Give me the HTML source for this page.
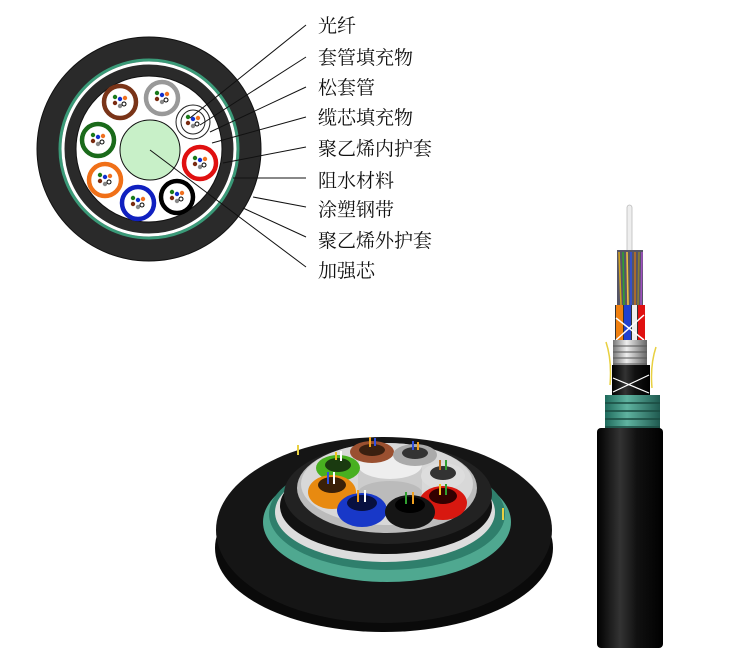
<!DOCTYPE html>
<html><head><meta charset="utf-8"><style>
html,body{margin:0;padding:0;background:#fff;}
svg{display:block;}
text{font-family:"Liberation Serif","Noto Serif CJK SC","Noto Sans CJK SC",serif;font-size:19px;fill:#111;}
</style></head><body>
<svg width="750" height="648" viewBox="0 0 750 648" xmlns="http://www.w3.org/2000/svg">
<defs>
<g id="dots">
<circle cx="-5" cy="-5" r="2.2" fill="#1a7a1a"/><circle cx="0" cy="-3" r="2.2" fill="#1030d0"/><circle cx="5" cy="-4" r="2.2" fill="#f07020"/>
<circle cx="-5" cy="1" r="2.2" fill="#7a2a10"/><circle cx="0" cy="4" r="2.2" fill="#888"/><circle cx="4" cy="2" r="2" fill="#fff" stroke="#000" stroke-width="1"/>
</g>
<linearGradient id="jk" x1="0" x2="1"><stop offset="0" stop-color="#000"/><stop offset="0.35" stop-color="#333"/><stop offset="0.6" stop-color="#111"/><stop offset="1" stop-color="#000"/></linearGradient>
<linearGradient id="sl" x1="0" x2="1"><stop offset="0" stop-color="#777"/><stop offset="0.4" stop-color="#eee"/><stop offset="1" stop-color="#666"/></linearGradient>
<linearGradient id="gr" x1="0" x2="1"><stop offset="0" stop-color="#1f6a5c"/><stop offset="0.4" stop-color="#5fb3a0"/><stop offset="1" stop-color="#1f5a50"/></linearGradient>
</defs>

<!-- cross section -->
<circle cx="149" cy="149" r="112" fill="#2a2a2a" stroke="#111" stroke-width="1"/>
<circle cx="149" cy="149" r="89" fill="none" stroke="#3a9a78" stroke-width="3"/>
<circle cx="149" cy="149" r="86" fill="none" stroke="#fff" stroke-width="3"/>
<circle cx="149" cy="149" r="84" fill="#2a2a2a"/>
<circle cx="149" cy="149" r="73" fill="#fff" stroke="#111" stroke-width="1"/>
<circle cx="150" cy="150" r="30" fill="#c8f0c8" stroke="#111" stroke-width="1"/>
<g>
<circle cx="120" cy="102" r="16" fill="#fff" stroke="#7a3418" stroke-width="4.5"/><use href="#dots" x="120" y="102"/>
<circle cx="162" cy="98" r="16" fill="#fff" stroke="#999" stroke-width="4.5"/><use href="#dots" x="162" y="98"/>
<circle cx="193" cy="122" r="17" fill="#fff" stroke="#222" stroke-width="1"/><circle cx="193" cy="122" r="12" fill="#fff" stroke="#222" stroke-width="1"/><use href="#dots" x="193" y="122"/>
<circle cx="98" cy="140" r="16" fill="#fff" stroke="#1a6a1a" stroke-width="4.5"/><use href="#dots" x="98" y="140"/>
<circle cx="200" cy="163" r="16" fill="#fff" stroke="#e01010" stroke-width="4.5"/><use href="#dots" x="200" y="163"/>
<circle cx="105" cy="180" r="16" fill="#fff" stroke="#f07018" stroke-width="4.5"/><use href="#dots" x="105" y="180"/>
<circle cx="138" cy="203" r="16" fill="#fff" stroke="#1020c0" stroke-width="4.5"/><use href="#dots" x="138" y="203"/>
<circle cx="177" cy="197" r="16" fill="#fff" stroke="#000" stroke-width="4.5"/><use href="#dots" x="177" y="197"/>
</g>
<g stroke="#111" stroke-width="1" fill="none">
<line x1="306" y1="25" x2="190" y2="118"/>
<line x1="306" y1="57" x2="200" y2="125"/>
<line x1="306" y1="87" x2="210" y2="132"/>
<line x1="306" y1="117" x2="212" y2="143"/>
<line x1="306" y1="147" x2="223" y2="163"/>
<line x1="306" y1="178" x2="233" y2="178"/>
<line x1="306" y1="207" x2="253" y2="197"/>
<line x1="306" y1="237" x2="243" y2="208"/>
<line x1="306" y1="267" x2="150" y2="150"/>
</g>
<text x="318" y="32">光纤</text>
<text x="318" y="64">套管填充物</text>
<text x="318" y="94">松套管</text>
<text x="318" y="124">缆芯填充物</text>
<text x="318" y="155">聚乙烯内护套</text>
<text x="318" y="187">阻水材料</text>
<text x="318" y="216">涂塑钢带</text>
<text x="318" y="247">聚乙烯外护套</text>
<text x="318" y="277">加强芯</text>

<!-- 3D disc -->
<ellipse cx="384" cy="548" rx="169" ry="84" fill="#0a0a0a"/>
<ellipse cx="384" cy="530" rx="168" ry="93" fill="#151515"/>
<ellipse cx="387" cy="522" rx="124" ry="60" fill="#4fa890"/>
<ellipse cx="387" cy="514" rx="118" ry="56" fill="#2f7f6c"/>
<ellipse cx="385" cy="512" rx="110" ry="50" fill="#ddd"/>
<ellipse cx="386" cy="506" rx="106" ry="48" fill="#111"/>
<ellipse cx="388" cy="494" rx="104" ry="50" fill="#222"/>
<ellipse cx="387" cy="488" rx="90" ry="45" fill="#bbb"/>
<ellipse cx="387" cy="484" rx="86" ry="41" fill="#d8d8d8"/>
<rect x="358" y="465" width="64" height="28" fill="#ccc"/>
<ellipse cx="390" cy="493" rx="32" ry="12" fill="#bbb"/>
<ellipse cx="390" cy="465" rx="32" ry="14" fill="#eee"/>
<g>
<ellipse cx="372" cy="452" rx="22" ry="11" fill="#9a5030"/><ellipse cx="372" cy="450" rx="13" ry="6" fill="#3a2010"/>
<ellipse cx="415" cy="455" rx="22" ry="11" fill="#aaa"/><ellipse cx="415" cy="453" rx="13" ry="6" fill="#333"/>
<ellipse cx="338" cy="468" rx="22" ry="13" fill="#48b020"/><ellipse cx="338" cy="465" rx="13" ry="7" fill="#1a3a10"/>
<ellipse cx="443" cy="476" rx="22" ry="13" fill="#ddd"/><ellipse cx="443" cy="473" rx="13" ry="7" fill="#333"/>
<ellipse cx="332" cy="492" rx="24" ry="17" fill="#e88a10"/><ellipse cx="332" cy="485" rx="14" ry="8" fill="#3a2008"/>
<ellipse cx="443" cy="503" rx="24" ry="17" fill="#d81810"/><ellipse cx="443" cy="496" rx="14" ry="8" fill="#300"/>
<ellipse cx="362" cy="510" rx="25" ry="17" fill="#1838c8"/><ellipse cx="362" cy="503" rx="15" ry="8" fill="#081040"/>
<ellipse cx="410" cy="512" rx="25" ry="17" fill="#151515"/><ellipse cx="410" cy="505" rx="15" ry="8" fill="#000"/>
</g>
<g stroke-width="2">
<line x1="336" y1="460" x2="336" y2="452" stroke="#f0c020"/><line x1="341" y1="461" x2="341" y2="451" stroke="#fff"/>
<line x1="370" y1="447" x2="370" y2="437" stroke="#f0a020"/><line x1="375" y1="446" x2="375" y2="438" stroke="#3050e0"/>
<line x1="413" y1="450" x2="413" y2="441" stroke="#3050e0"/><line x1="418" y1="450" x2="418" y2="442" stroke="#f0a020"/>
<line x1="440" y1="470" x2="440" y2="460" stroke="#c07020"/><line x1="446" y1="470" x2="446" y2="460" stroke="#30a030"/>
<line x1="328" y1="484" x2="328" y2="472" stroke="#3050e0"/><line x1="334" y1="484" x2="334" y2="472" stroke="#fff"/>
<line x1="440" y1="495" x2="440" y2="484" stroke="#f0c020"/><line x1="446" y1="495" x2="446" y2="484" stroke="#30a030"/>
<line x1="358" y1="502" x2="358" y2="490" stroke="#f0a020"/><line x1="365" y1="502" x2="365" y2="490" stroke="#fff"/>
<line x1="406" y1="504" x2="406" y2="492" stroke="#30a030"/><line x1="413" y1="504" x2="413" y2="492" stroke="#f0a020"/>
</g>
<line x1="298" y1="455" x2="298" y2="445" stroke="#e8d040" stroke-width="2"/>
<line x1="503" y1="520" x2="503" y2="508" stroke="#e8d040" stroke-width="2"/>

<!-- right cable -->
<rect x="627" y="205" width="5" height="50" rx="2.5" fill="#eee" stroke="#bbb" stroke-width="0.8"/>
<rect x="617" y="250" width="26" height="57" fill="#556"/>
<g stroke-width="1.6">
<line x1="619" y1="252" x2="621" y2="305" stroke="#d0a020"/><line x1="623" y1="252" x2="624" y2="305" stroke="#30a030"/>
<line x1="627" y1="252" x2="628" y2="305" stroke="#f0c040"/><line x1="631" y1="252" x2="631" y2="305" stroke="#3050e0"/>
<line x1="635" y1="252" x2="635" y2="305" stroke="#c07020"/><line x1="639" y1="252" x2="638" y2="305" stroke="#8a8030"/>
<line x1="642" y1="252" x2="641" y2="305" stroke="#a050c0"/>
</g>
<rect x="615" y="305" width="30" height="36" fill="#333"/>
<rect x="616" y="305" width="7" height="36" fill="#f08010"/><rect x="624" y="305" width="7" height="36" fill="#2040d0"/>
<rect x="632" y="305" width="5" height="36" fill="#eee"/><rect x="638" y="305" width="7" height="36" fill="#e01010"/>
<line x1="616" y1="340" x2="644" y2="315" stroke="#fff" stroke-width="1.5"/><line x1="616" y1="318" x2="644" y2="340" stroke="#fff" stroke-width="1.5"/>
<rect x="613" y="340" width="34" height="27" fill="url(#sl)"/>
<g stroke="#555" stroke-width="1"><line x1="613" y1="346" x2="647" y2="346"/><line x1="613" y1="352" x2="647" y2="352"/><line x1="613" y1="358" x2="647" y2="358"/><line x1="613" y1="364" x2="647" y2="364"/></g>
<rect x="612" y="365" width="38" height="32" fill="url(#jk)"/>
<line x1="613" y1="392" x2="649" y2="375" stroke="#fff" stroke-width="1.2"/><line x1="613" y1="378" x2="649" y2="393" stroke="#fff" stroke-width="1.2"/>
<path d="M606 342 Q612 360 610 385" stroke="#e8d040" stroke-width="1.5" fill="none"/>
<path d="M656 347 Q650 365 652 388" stroke="#e8d040" stroke-width="1.5" fill="none"/>
<rect x="605" y="395" width="55" height="36" fill="url(#gr)"/>
<g stroke="#1a4a40" stroke-width="1.5"><line x1="605" y1="403" x2="660" y2="403"/><line x1="605" y1="411" x2="660" y2="411"/><line x1="605" y1="419" x2="660" y2="419"/><line x1="605" y1="427" x2="660" y2="427"/></g>
<rect x="597" y="428" width="66" height="220" rx="4" fill="url(#jk)"/>
</svg>
</body></html>
